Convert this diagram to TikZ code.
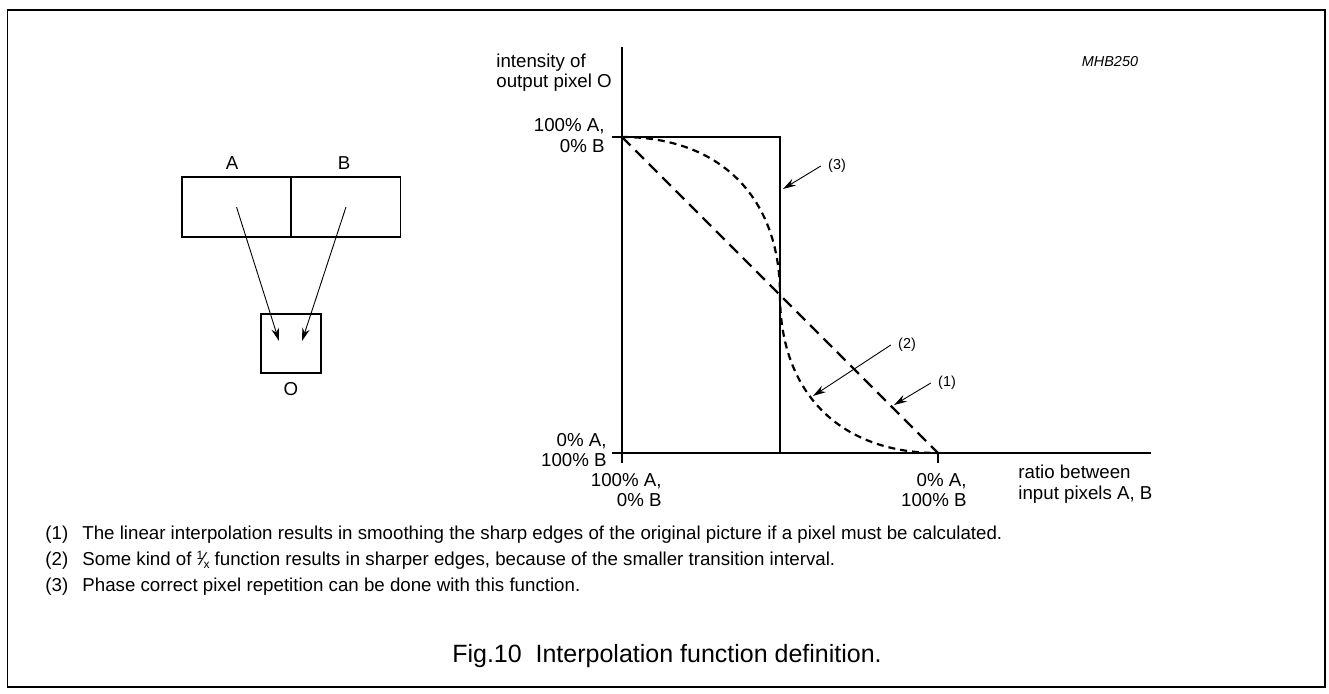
\documentclass[tikz,border=0pt]{standalone}
\usepackage{fontspec}
\setmainfont{Liberation Sans}
\usetikzlibrary{arrows.meta}

\begin{document}
\begin{tikzpicture}[x=0.5pt,y=-0.5pt,>={Stealth[length=6.5pt,width=3.8pt]},
  lbl/.style={inner sep=0,font=\fontsize{9.35}{10.3}\selectfont},
  tag/.style={inner sep=3.5pt,font=\fontsize{7.2}{8}\selectfont},
  pix/.style={draw,line width=0.7pt,inner sep=0,minimum width=54.5pt,minimum height=30pt},
  axis/.style={line width=0.65pt},
  ptr/.style={->,line width=0.45pt},
  lin/.style={line width=1.1pt,dash pattern=on 6pt off 3.5pt},
  curv/.style={line width=1.1pt,dash pattern=on 3.5pt off 2.5pt}]
\useasboundingbox (0,0) rectangle (1329,693);
\draw[line width=0.7pt] (7.5,10) rectangle (1325,687);

\node[pix](pA) at (236.5,207) {};
\node[pix](pB) at (346,207) {};
\node[pix,minimum width=30pt,minimum height=29.5pt](pO) at (291,343.5) {};
\node[lbl](lA) at (232,163) {A};
\node[lbl](lB) at (344,163) {B};
\node[lbl](lO) at (291,389) {O};
\coordinate (oL) at (279,341);
\coordinate (oR) at (302,341);
\draw[ptr] (pA.center) -- (oL);
\draw[ptr] (pB.center) -- (oR);

\draw[axis] (622,47) -- (622,463);
\draw[axis] (612,453) -- (1151,453);
\draw[axis] (612,137) -- (622,137);
\draw[axis] (938,453) -- (938,463);
\node[lbl,align=left,anchor=west](yl) at (496,72.5) {intensity of\\output pixel O};
\node[tag,inner sep=0](id) at (1110,62) {\itshape MHB250};
\node[lbl,align=right,anchor=east](y1) at (605,135.5) {100\% A,\\0\% B};
\node[lbl,align=right,anchor=east](y0) at (607,450) {0\% A,\\100\% B};
\node[lbl,align=right,anchor=east](x0) at (662,490) {100\% A,\\0\% B};
\node[lbl,align=right,anchor=east](x1) at (967,490) {0\% A,\\100\% B};
\node[lbl,align=left,anchor=west](xl) at (1018,484) {ratio between\\input pixels A, B};

\draw[line width=1.2pt] (622,137) -- (780,137) -- (780,453);
\draw[lin] (622,137) -- (938,453);
\draw[curv] (622,137) .. controls (720,137) and (780,197) .. (780,295)
  .. controls (780,393) and (840,453) .. (938,453);

\node[tag](t3) at (837,166) {(3)};
\node[tag](t2) at (907,345) {(2)};
\node[tag](t1) at (947,383) {(1)};
\coordinate (p3) at (783,189);
\coordinate (p2) at (813,396);
\coordinate (p1) at (894,405);
\draw[ptr] (t3.west) -- (p3);
\draw[ptr] (t2.west) -- (p2);
\draw[ptr] (t1.west) -- (p1);

\node[lbl,anchor=base west](n1) at (45,539) {(1)};
\node[lbl,anchor=base west](m1) at (82,539) {The linear interpolation results in smoothing the sharp edges of the original picture if a pixel must be calculated.};
\node[lbl,anchor=base west](n2) at (45,565) {(2)};
\node[lbl,anchor=base west](m2) at (82,565) {Some kind of \raisebox{.55ex}{\fontsize{6}{6}\selectfont 1}\kern-.08em⁄\kern-.08em\raisebox{-.35ex}{\fontsize{6}{6}\selectfont x} function results in sharper edges, because of the smaller transition interval.};
\node[lbl,anchor=base west](n3) at (45,591) {(3)};
\node[lbl,anchor=base west](m3) at (82,591) {Phase correct pixel repetition can be done with this function.};
\node[lbl,font=\fontsize{12.5}{14}\selectfont,anchor=base](cap) at (667,662) {Fig.10\ \ Interpolation function definition.};
\end{tikzpicture}
\end{document}
